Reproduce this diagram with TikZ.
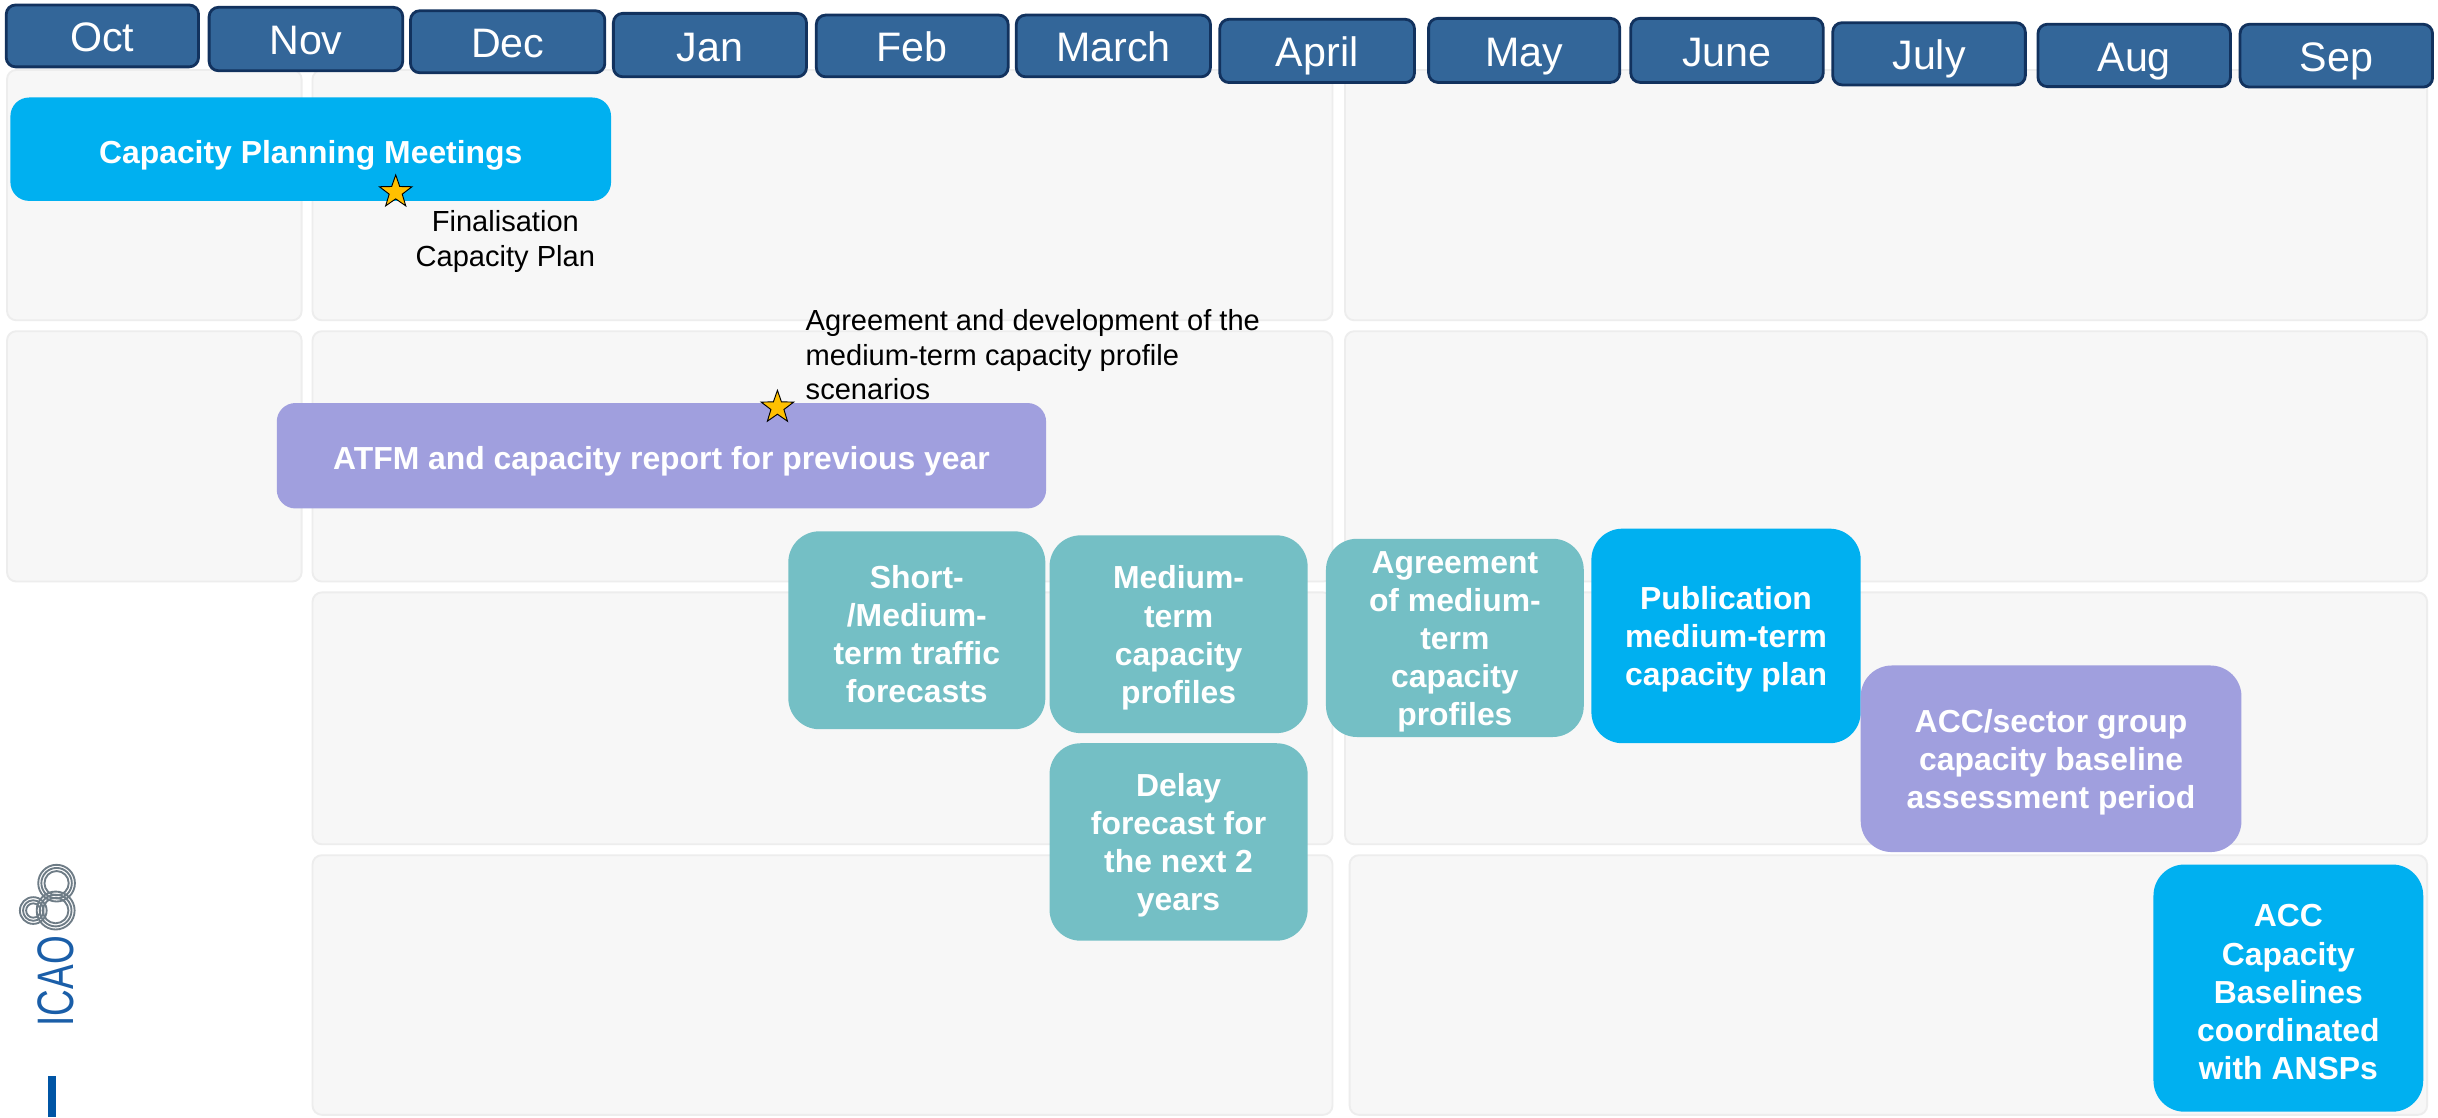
\documentclass[tikz,border=0pt]{standalone}
\usepackage{fontspec}
\setmainfont{Liberation Sans}
\usetikzlibrary{shapes.geometric}
\definecolor{monthfill}{HTML}{336699}
\definecolor{monthedge}{HTML}{12325E}
\definecolor{lanefill}{HTML}{F7F7F7}
\definecolor{laneedge}{HTML}{EDEDED}
\definecolor{cyanbox}{HTML}{00B0F0}
\definecolor{tealbox}{HTML}{74BFC5}
\definecolor{lavbox}{HTML}{A09FDE}
\definecolor{stargold}{HTML}{FFC000}
\definecolor{icaoblue}{HTML}{1A5EA8}
\definecolor{ringgray}{HTML}{6E7C86}
\definecolor{barblue}{HTML}{0055A5}
\newcommand\toplift{\rule{0pt}{19.5pt}}
\begin{document}
\begin{tikzpicture}[x=1pt,y=-1pt,
  month/.style={draw=monthedge, line width=1.8pt, fill=monthfill, rounded corners=6pt,
    text=white, font=\fontsize{26.5}{30}\selectfont, inner sep=0pt, text height=20.5pt, text depth=0pt},
  lane/.style={draw=laneedge, line width=1.2pt, fill=lanefill, rounded corners=6pt, inner sep=0pt},
  task/.style={rounded corners=20pt, text=white, font=\bfseries\fontsize{20.5}{24.5}\selectfont,
    align=center, inner sep=0pt},
  widetask/.style={rounded corners=12pt, text=white, font=\bfseries\fontsize{20.5}{24.5}\selectfont,
    inner sep=0pt, text height=18pt, text depth=0pt},
  milestone/.style={star, star points=5, star point ratio=2.5, minimum size=22pt, inner sep=0pt,
    draw=black, line width=0.6pt, fill=stargold},
  note/.style={font=\fontsize{18.7}{22.5}\selectfont, inner sep=0pt, text=black}
]
\useasboundingbox (0,0) rectangle (1568,718.4);
\fill[white] (0,0) rectangle (1568,718.4);

% lanes
\node[lane, minimum width=189.5pt, minimum height=161pt] (l1a) at (99.25,125.5) {};
\node[lane, minimum width=656pt, minimum height=161pt] (l1b) at (529,125.5) {};
\node[lane, minimum width=696pt, minimum height=161pt] (l1c) at (1213,125.5) {};
\node[lane, minimum width=189.5pt, minimum height=161pt] (l2a) at (99.25,293.5) {};
\node[lane, minimum width=656pt, minimum height=161pt] (l2b) at (529,293.5) {};
\node[lane, minimum width=696pt, minimum height=161pt] (l2c) at (1213,293.5) {};
\node[lane, minimum width=656pt, minimum height=162pt] (l3b) at (529,462) {};
\node[lane, minimum width=696pt, minimum height=162pt] (l3c) at (1213,462) {};
\node[lane, minimum width=656pt, minimum height=167pt] (l4b) at (529,633.5) {};
\node[lane, minimum width=693pt, minimum height=167pt] (l4c) at (1214.5,633.5) {};

% months
\node[month, minimum width=123.7pt, minimum height=39.8pt] (oct) at (65.85,23.1) {Oct};
\node[month, minimum width=124.5pt, minimum height=40.8pt] (nov) at (196.75,25.1) {Nov};
\node[month, minimum width=125pt, minimum height=39.9pt] (dec) at (326.5,26.85) {Dec};
\node[month, minimum width=124.2pt, minimum height=40.8pt] (jan) at (456.6,29) {Jan};
\node[month, minimum width=123.4pt, minimum height=39.7pt] (feb) at (586.7,29.55) {Feb};
\node[month, minimum width=124.9pt, minimum height=39.7pt] (mar) at (716.05,29.55) {March};
\node[month, minimum width=125.2pt, minimum height=40.7pt] (apr) at (847.1,32.75) {April};
\node[month, minimum width=122.9pt, minimum height=41.2pt] (may) at (980.25,32.4) {May};
\node[month, minimum width=123.8pt, minimum height=41.2pt] (jun) at (1110.7,32.4) {June};
\node[month, minimum width=123.9pt, minimum height=40pt] (jul) at (1240.65,34.6) {July};
\node[month, minimum width=123.8pt, minimum height=40.1pt] (aug) at (1372.6,35.65) {Aug};
\node[month, minimum width=123.8pt, minimum height=40.4pt] (sep) at (1502.6,35.8) {Sep};

% tasks
\node[widetask, fill=cyanbox, minimum width=386.3pt, minimum height=66.5pt] (cpm) at (199.85,95.95)
  {Capacity Planning Meetings};
\node[widetask, fill=lavbox, minimum width=494.8pt, minimum height=67.8pt] (atfm) at (425.4,293.1)
  {ATFM and capacity report for previous year};
\node[task, fill=tealbox, minimum width=165.3pt, minimum height=127.3pt] (short) at (589.65,405.35)
  {\toplift Short-\\/Medium-\\term traffic\\forecasts};
\node[task, fill=tealbox, minimum width=166pt, minimum height=127.2pt] (medium) at (758,407.9)
  {\toplift Medium-\\term\\capacity\\profiles};
\node[task, fill=tealbox, minimum width=166pt, minimum height=127pt] (delay) at (758,541.5)
  {\toplift Delay\\forecast for\\the next 2\\years};
\node[task, fill=tealbox, minimum width=165.8pt, minimum height=127.5pt] (agree) at (935.7,410.25)
  {\toplift Agreement\\of medium-\\term\\capacity\\profiles};
\node[task, fill=cyanbox, minimum width=173.2pt, minimum height=138pt] (publ) at (1110.1,409)
  {\toplift Publication\\medium-term\\capacity plan};
\node[task, fill=lavbox, minimum width=244.9pt, minimum height=120pt] (accsec) at (1319.15,488)
  {\toplift ACC/sector group\\capacity baseline\\assessment period};
\node[task, fill=cyanbox, minimum width=173.5pt, minimum height=159pt] (accbase) at (1471.75,635.5)
  {\toplift ACC\\Capacity\\Baselines\\coordinated\\with ANSPs};

% milestones
\node[milestone] (s1) at (254.5,123.5) {};
\node[milestone] (s2) at (500,262) {};
\node[note, align=center, anchor=north] (n1) at (325,135) {Finalisation\\Capacity Plan};
\node[note, align=left, anchor=north west] (n2) at (518,198.5)
  {Agreement and development of the\\medium-term capacity profile\\scenarios};

% ICAO logo
\foreach \cx/\cy/\r in {36.4/568/11.8, 35.8/585.6/12.2, 21.4/585.6/8.6}{
  \foreach \k in {0,1,2}{
    \draw[ringgray, line width=1.2pt] (\cx,\cy) circle[radius=\r-\k*2.0];
  }
}
\node[rotate=90, text=icaoblue, font=\fontsize{33}{33}\selectfont, inner sep=0pt] (icao) at (36,631)
  {\scalebox{0.72}[1]{ICAO}};
\fill[barblue] (31,692) rectangle (36,718.4);
\end{tikzpicture}
\end{document}
